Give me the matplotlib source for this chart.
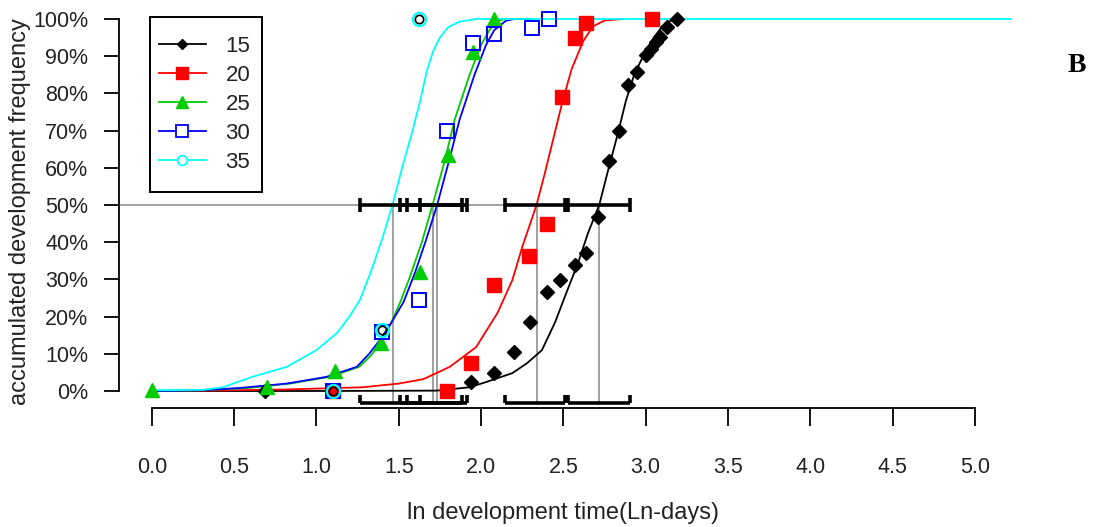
import numpy as np
import matplotlib
matplotlib.use('Agg')
import matplotlib.pyplot as plt
from matplotlib.lines import Line2D
from matplotlib.patches import Rectangle

plt.rcParams['font.family'] = ['Liberation Sans', 'DejaVu Sans']

# temperature groups
temps = ['15', '20', '25', '30', '35']
colors = ['black', '#ff0000', '#00cd00', '#0000ff', '#00ffff']

# observed accumulated development (ln days, %)
obs15_x = [0.69, 1.10, 1.94, 2.08, 2.20, 2.30, 2.40, 2.48, 2.57, 2.64, 2.71, 2.78,
           2.84, 2.89, 2.95, 3.00, 3.03, 3.06, 3.09, 3.13, 3.19]
obs15_y = [0, 0, 2.4, 4.8, 10.5, 18.5, 26.6, 29.8, 33.9, 37.1, 46.8, 61.8,
           69.9, 82.3, 85.8, 90.3, 91.9, 93.8, 95.2, 97.8, 100]
obs20_x = [1.10, 1.79, 1.94, 2.08, 2.29, 2.40, 2.49, 2.57, 2.64, 3.04]
obs20_y = [0, 0, 7.6, 28.5, 36.3, 45, 79, 94.8, 99, 100]
obs25_x = [0.0, 0.70, 1.11, 1.39, 1.63, 1.80, 1.95, 2.08]
obs25_y = [0.3, 1.2, 5.3, 13, 32, 63.5, 91, 100]
obs30_x = [1.10, 1.395, 1.62, 1.795, 1.95, 2.08, 2.31, 2.41]
obs30_y = [0, 15.9, 24.5, 70, 93.5, 96, 97.5, 100]
obs35_x = [1.10, 1.395, 1.62]
obs35_y = [0, 16.5, 100]

# fitted curves
fit15_x = [0.0, 1.0, 1.73, 1.93, 2.03, 2.19, 2.28, 2.37, 2.45, 2.52, 2.59, 2.65, 2.718,
           2.77, 2.83, 2.88, 2.93, 2.99, 3.05, 3.10, 3.15, 3.20]
fit15_y = [0, 0, 0.1, 1, 2.4, 4.8, 7.5, 11, 18.5, 26.6, 34.5, 42.5, 50,
           59, 69, 78, 85, 90.5, 95, 98, 99.5, 100]
fit20_x = [0.0, 0.31, 0.8, 1.28, 1.5, 1.65, 1.81, 1.97, 2.10, 2.19, 2.25, 2.337, 2.39,
           2.44, 2.49, 2.55, 2.62, 2.68, 2.75, 2.86]
fit20_y = [0, 0.1, 0.4, 1, 2, 3.2, 6.5, 11.8, 21, 29.8, 38.7, 50, 59,
           68, 77, 86.5, 94, 98, 99.6, 100]
fit25_x = [0.0, 0.3, 0.58, 0.84, 1.08, 1.26, 1.33, 1.40, 1.46, 1.51, 1.57, 1.64, 1.705,
           1.78, 1.84, 1.93, 2.0, 2.05, 2.1, 2.15, 2.3]
fit25_y = [0, 0.2, 0.8, 2, 3.8, 6.5, 9.5, 13.7, 19, 24, 31, 40, 50,
           62, 73, 85, 93, 97, 99.5, 100, 100]
fit30_x = [0.0, 0.3, 0.53, 0.82, 1.06, 1.245, 1.32, 1.385, 1.45, 1.53, 1.6, 1.665, 1.733,
           1.80, 1.87, 1.96, 2.03, 2.08, 2.15, 2.2, 2.3]
fit30_y = [0, 0.2, 0.8, 2, 3.8, 6.5, 10, 13.7, 18, 24, 32, 40.5, 50,
           61, 73, 85, 93, 97, 99.5, 100, 100]
fit35_x = [0.0, 0.31, 0.43, 0.61, 0.82, 1.0, 1.125, 1.20, 1.264, 1.33, 1.40, 1.462,
           1.52, 1.58, 1.63, 1.67, 1.71, 1.75, 1.80, 1.87, 1.97, 5.22]
fit35_y = [0.2, 0.3, 1, 3.8, 6.5, 11, 15.6, 20, 24.5, 32, 41, 50,
           60, 69.4, 78, 86, 91.5, 95, 97.8, 99.3, 100, 100]

# median development time and its interval (ln days)
medians = [2.718, 2.337, 1.705, 1.733, 1.462]
ci_low = [2.53, 2.145, 1.507, 1.549, 1.264]
ci_high = [2.904, 2.51, 1.885, 1.915, 1.628]

xticks = [0.0, 0.5, 1.0, 1.5, 2.0, 2.5, 3.0, 3.5, 4.0, 4.5, 5.0]
yticks = [0, 10, 20, 30, 40, 50, 60, 70, 80, 90, 100]

fig = plt.figure(figsize=(10.94, 5.27), dpi=100)
ax = fig.add_axes([0.10878, 0.2258, 0.81536, 0.7666])
ax.set_xlim(-0.2, 5.22)
ax.set_ylim(-4.57, 104.03)

fits = [(fit15_x, fit15_y), (fit20_x, fit20_y), (fit25_x, fit25_y),
        (fit30_x, fit30_y), (fit35_x, fit35_y)]
obs = [(obs15_x, obs15_y), (obs20_x, obs20_y), (obs25_x, obs25_y),
       (obs30_x, obs30_y), (obs35_x, obs35_y)]

for i in range(5):
    ax.plot(fits[i][0], fits[i][1], color=colors[i], lw=1.3, zorder=3, clip_on=False)
    ox, oy = obs[i]
    if i == 0:
        ax.plot(ox, oy, 'D', color='black', ms=7, zorder=4, ls='none')
    elif i == 1:
        ax.plot(ox, oy, 's', color=colors[1], ms=10.5, zorder=4, ls='none')
    elif i == 2:
        ax.plot(ox, oy, '^', color=colors[2], ms=10, zorder=4, ls='none')
    elif i == 3:
        ax.plot(ox, oy, 's', mfc='none', mec=colors[3], mew=1.4, ms=10.5, zorder=4, ls='none')
    else:
        ax.plot(ox, oy, 'o', mfc='none', mec=colors[4], mew=1.6, ms=9.5, zorder=5, ls='none')
        ax.plot(ox, oy, 'o', mfc='none', mec='black', mew=1.2, ms=6, zorder=5, ls='none')

# reference lines at 50%
ax.plot([-0.2, max(ci_high)], [50, 50], color='#999999', lw=1.3, zorder=2)
for m in medians:
    ax.plot([m, m], [-3.5, 50], color='#999999', lw=1.3, zorder=2)

# interval bars at 50% and along the bottom
for lo, hi in zip(ci_low, ci_high):
    ax.plot([lo, hi], [50, 50], color='black', lw=2.6, zorder=6, solid_capstyle='butt')
    ax.plot([lo, hi], [-3.2, -3.2], color='black', lw=2.6, zorder=6, solid_capstyle='butt')
    for xc in (lo, hi):
        ax.plot([xc, xc], [48, 52], color='black', lw=2.6, zorder=6, solid_capstyle='butt')
        ax.plot([xc, xc], [-3.2, -1.0], color='black', lw=2.6, zorder=6, solid_capstyle='butt')

for s in ['top', 'right']:
    ax.spines[s].set_visible(False)
ax.spines['left'].set_bounds(0, 100)
ax.spines['bottom'].set_bounds(0, 5)
for s in ['left', 'bottom']:
    ax.spines[s].set_linewidth(1.3)

ax.set_xticks(xticks)
ax.set_xticklabels(['%.1f' % t for t in xticks], fontsize=15.5, color='#222222')
ax.set_yticks(yticks)
ax.set_yticklabels(['%d%%' % t for t in yticks], fontsize=15.5, color='#222222')
ax.tick_params(axis='x', length=13, width=1.3, pad=22)
ax.tick_params(axis='y', length=11, width=1.3, pad=11)

fig.text(563 / 1094, 1 - 513 / 527, 'ln development time(Ln-days)', fontsize=17,
         ha='center', va='center', color='#222222')
fig.text(20 / 1094, 1 - 212 / 527, 'accumulated development frequency', fontsize=17,
         ha='center', va='center', rotation=90, color='#222222')
fig.text(1077 / 1094, 1 - 65 / 527, 'B', fontsize=20, fontweight='bold',
         family='Liberation Serif', ha='center', va='center')

handles = [
    Line2D([], [], color=colors[0], marker='D', ms=5, lw=1.3),
    Line2D([], [], color=colors[1], marker='s', ms=8, lw=1.3),
    Line2D([], [], color=colors[2], marker='^', ms=8, lw=1.3),
    Line2D([], [], color=colors[3], marker='s', mfc='white', ms=8, mew=1.3, lw=1.3),
    Line2D([], [], color=colors[4], marker='o', mfc='white', ms=7, mew=1.3, lw=1.3),
]
leg = ax.legend(handles, temps, loc='upper left', bbox_to_anchor=(0.0348, 0.943),
                fontsize=16, frameon=False, handlelength=2.1, handletextpad=0.9,
                labelspacing=0.36, borderpad=0.4, borderaxespad=0)
for t in leg.get_texts():
    t.set_color('#222222')
ax.add_patch(Rectangle((0.0348, 0.5347), 0.1256, 0.4332, transform=ax.transAxes,
                       fill=False, edgecolor='black', lw=1.4, zorder=7))

fig.savefig('out.png', dpi=100)
